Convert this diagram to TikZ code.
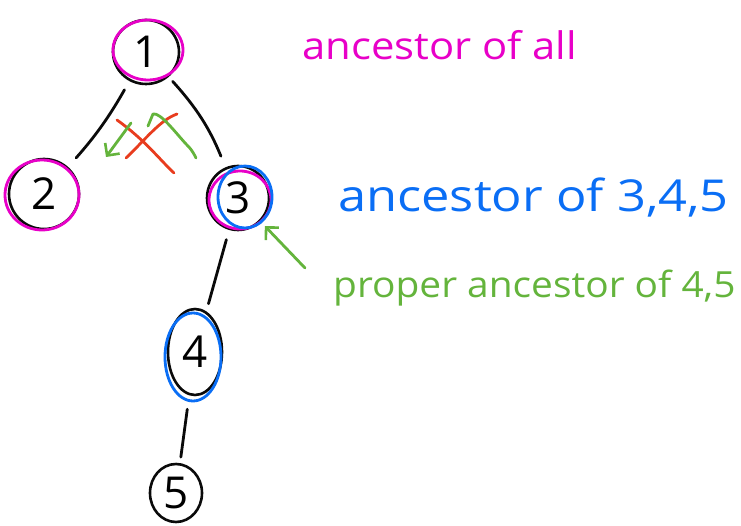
\documentclass[tikz,border=0pt]{standalone}
\usepackage{fontspec}
\setmainfont{Open Sans}
\usetikzlibrary{shapes.geometric,arrows.meta}
\definecolor{pen}{RGB}{10,10,10}
\definecolor{mag}{RGB}{232,0,200}
\definecolor{blu}{RGB}{10,110,245}
\definecolor{grn}{RGB}{100,180,60}
\definecolor{rd}{RGB}{232,60,30}
\tikzset{
  vtx/.style={ellipse, draw=pen, line width=2.6pt, inner sep=0pt,
    font=\fontsize{44}{44}\selectfont},
  edge/.style={draw=pen, line width=2.8pt, line cap=round},
  ink/.style={line width=2.8pt, line cap=round, line join=round},
  barb/.style={-{Straight Barb[length=9pt,width=18pt,line width=2.6pt]}},
  note/.style={anchor=base west, inner sep=0pt}
}
\begin{document}
\begin{tikzpicture}[x=1pt,y=-1pt]
\useasboundingbox (0,0) rectangle (741,526);
% tree vertices
\node[vtx, minimum width=66pt, minimum height=64pt] (n1) at (146,52) {1};
\node[vtx, minimum width=70pt, minimum height=70pt] (n2) at (44,194) {2};
\node[vtx, minimum width=62pt, minimum height=64pt] (n3) at (238,198) {3};
\node[vtx, minimum width=54pt, minimum height=86pt] (n4) at (195,352) {4};
\node[vtx, minimum width=52pt, minimum height=58pt] (n5) at (176,493) {5};
% coloured rings
\draw[ink, mag] (148,50) ellipse [x radius=35, y radius=30];
\draw[ink, mag] (42,195) ellipse [x radius=37, y radius=35];
\draw[ink, mag] (240,200) ellipse [x radius=31, y radius=29];
\draw[ink, blu] (245,197) ellipse [x radius=27, y radius=31];
\draw[ink, blu] (193,357) ellipse [x radius=28, y radius=44];
% tree edges
\draw[edge, shorten <=10pt, shorten >=12pt] (n1) to[bend left=6] (n2);
\draw[edge, shorten <=6pt, shorten >=12pt] (n1) to[bend left=10] (n3);
\draw[edge, shorten <=10pt, shorten >=8pt] (n3) -- (n4);
\draw[edge, shorten <=14pt, shorten >=6pt] (n4) -- (n5);
% crossed-out direction marks
\draw[ink, rd] (117,120) .. controls (145,140) and (160,160) .. (174,173);
\draw[ink, rd] (126,158) .. controls (145,140) and (160,120) .. (177,114);
\draw[ink, grn, barb] (131,123) -- (106,157);
\draw[ink, grn] (196,158) .. controls (192,150) and (190,148) .. (186,144)
  .. controls (175,132) and (160,112) .. (153,114) -- (148,126);
% pointer to vertex 3
\coordinate (p3) at (305,268);
\draw[ink, grn, barb, shorten >=6pt] (p3) -- (n3);
% annotations
\node[note, text=mag, font=\fontsize{38}{38}\selectfont, xscale=1.1] (t1) at (302,60) {ancestor of all};
\node[note, text=blu, font=\fontsize{44}{44}\selectfont, xscale=1.15] (t2) at (338,212) {ancestor of 3,4,5};
\node[note, text=grn, font=\fontsize{36}{36}\selectfont, xscale=1.08] (t3) at (333,298) {proper ancestor of 4,5};
\end{tikzpicture}
\end{document}
